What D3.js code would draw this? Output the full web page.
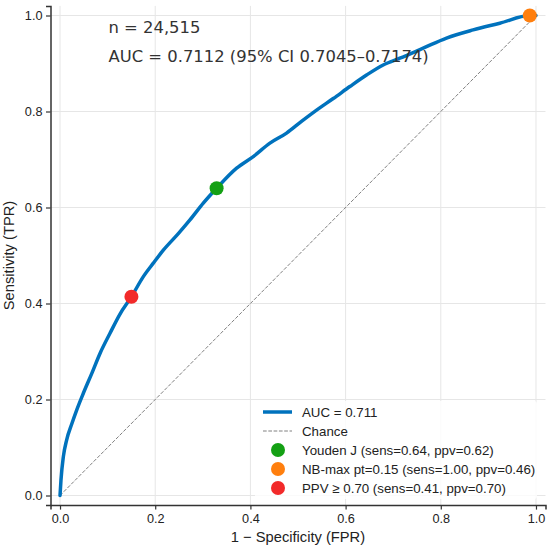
<!DOCTYPE html>
<html>
  <head>
    <meta charset="utf-8">
    <title>ROC curve</title>
    <script src="https://d3js.org/d3.v7.min.js"></script>
    <style>
      body { margin: 0; background: white; }
      .tick text { font-family: "Liberation Sans", Arial, sans-serif; font-size: 12.7px; fill: #222; }
      .axisLabel { font-family: "Liberation Sans", Arial, sans-serif; font-size: 14.7px; fill: #222; }
      .note { font-family: "DejaVu Sans", sans-serif; font-size: 16.4px; fill: #333; }
      .legendText { font-family: "Liberation Sans", Arial, sans-serif; font-size: 13.3px; fill: #222; }
    </style>
  </head>
  <body>
    <svg id="chart" width="550" height="549"></svg>
    <script>
      // data
      fpr = [0, 0.002, 0.007, 0.014, 0.025, 0.035, 0.049, 0.067, 0.084, 0.105, 0.126, 0.150,
             0.175, 0.196, 0.217, 0.249, 0.273, 0.301, 0.329, 0.371, 0.406, 0.441, 0.476,
             0.508, 0.539, 0.574, 0.609, 0.644, 0.679, 0.714, 0.763, 0.812, 0.868, 0.924, 0.987, 1.0];
      tpr = [0, 0.032, 0.081, 0.116, 0.150, 0.178, 0.213, 0.255, 0.296, 0.338, 0.378, 0.414,
             0.456, 0.484, 0.511, 0.546, 0.574, 0.609, 0.640, 0.682, 0.706, 0.734, 0.755,
             0.780, 0.803, 0.827, 0.852, 0.876, 0.897, 0.911, 0.932, 0.953, 0.970, 0.984, 1.0, 1.0];
      pointNames = ["Youden J (sens=0.64, ppv=0.62)",
                    "NB-max pt=0.15 (sens=1.00, ppv=0.46)",
                    "PPV \u2265 0.70 (sens=0.41, ppv=0.70)"];
      pointFpr = [0.329, 0.987, 0.150];
      pointTpr = [0.640, 1.0, 0.414];
      ticks = [0, 0.2, 0.4, 0.6, 0.8, 1.0];
      notes = ["n = 24,515", "AUC = 0.7112 (95% CI 0.7045\u20130.7174)"];
      curveLabel = "AUC = 0.711";
      chanceLabel = "Chance";

      pointColours = ["#14a014", "#ff7f0e", "#f22a2a"];

      svg = d3.select("#chart");
      x = d3.scaleLinear().domain([-0.02, 1.02]).range([50.5, 545.5]);
      y = d3.scaleLinear().domain([-0.02, 1.02]).range([505.1, 5.9]);

      // grid
      grid = svg.append("g");
      grid.selectAll(".gx").data(ticks).enter().append("line")
        .attr("x1", d => x(d)).attr("x2", d => x(d))
        .attr("y1", y.range()[0]).attr("y2", y.range()[1])
        .attr("stroke", "#e6e6e6").attr("stroke-width", 1);
      grid.selectAll(".gy").data(ticks).enter().append("line")
        .attr("y1", d => y(d)).attr("y2", d => y(d))
        .attr("x1", x.range()[0]).attr("x2", x.range()[1])
        .attr("stroke", "#e6e6e6").attr("stroke-width", 1);

      // chance line
      svg.append("line")
        .attr("x1", x(0)).attr("y1", y(0)).attr("x2", x(1)).attr("y2", y(1))
        .attr("stroke", "#808080").attr("stroke-width", 1)
        .attr("stroke-dasharray", "3.7,1.6");

      // roc curve
      line = d3.line().x(d => x(d[0])).y(d => y(d[1])).curve(d3.curveMonotoneX);
      svg.append("path")
        .datum(d3.zip(fpr, tpr))
        .attr("d", line)
        .attr("fill", "none")
        .attr("stroke", "#0072bd")
        .attr("stroke-width", 3.5)
        .attr("stroke-linejoin", "round")
        .attr("stroke-linecap", "round");

      // operating points
      svg.selectAll(".pt").data(pointNames).enter().append("circle")
        .attr("cx", (d, i) => x(pointFpr[i]))
        .attr("cy", (d, i) => y(pointTpr[i]))
        .attr("r", 7)
        .attr("fill", (d, i) => pointColours[i]);

      // axes
      xAxis = svg.append("g")
        .attr("transform", "translate(0," + y.range()[0] + ")")
        .call(d3.axisBottom(x).tickValues(ticks).tickFormat(d3.format(".1f")).tickSizeOuter(0).tickSize(4.5).tickPadding(4));
      yAxis = svg.append("g")
        .attr("transform", "translate(" + x.range()[0] + ",0)")
        .call(d3.axisLeft(y).tickValues(ticks).tickFormat(d3.format(".1f")).tickSizeOuter(0).tickSize(4.5).tickPadding(3.5));
      svg.selectAll(".domain").attr("stroke", "#333").attr("stroke-width", 1.5);
      svg.selectAll(".tick line").attr("stroke", "#333").attr("stroke-width", 1.2);

      svg.append("text").attr("class", "axisLabel")
        .attr("x", (x.range()[0] + x.range()[1]) / 2).attr("y", 542)
        .attr("text-anchor", "middle")
        .text("1 \u2212 Specificity (FPR)");
      svg.append("text").attr("class", "axisLabel")
        .attr("transform", "translate(14," + (y.range()[0] + y.range()[1]) / 2 + ") rotate(-90)")
        .attr("text-anchor", "middle")
        .text("Sensitivity (TPR)");

      // notes
      svg.selectAll(".note").data(notes).enter().append("text")
        .attr("class", "note")
        .attr("x", 108.5)
        .attr("y", (d, i) => 33 + i * 29)
        .text(d => d);

      // legend
      legend = svg.append("g").attr("transform", "translate(255,401)");
      legend.append("rect")
        .attr("width", 282).attr("height", 98)
        .attr("rx", 3)
        .attr("fill", "white").attr("fill-opacity", 0.8);
      rowY = d => 11 + d * 19;
      legend.append("line")
        .attr("x1", 8).attr("x2", 37).attr("y1", rowY(0)).attr("y2", rowY(0))
        .attr("stroke", "#0072bd").attr("stroke-width", 3.5);
      legend.append("line")
        .attr("x1", 8).attr("x2", 37).attr("y1", rowY(1)).attr("y2", rowY(1))
        .attr("stroke", "#808080").attr("stroke-width", 1)
        .attr("stroke-dasharray", "3.7,1.6");
      legend.selectAll(".lp").data(pointNames).enter().append("circle")
        .attr("cx", 23).attr("cy", (d, i) => rowY(i + 2))
        .attr("r", 7)
        .attr("fill", (d, i) => pointColours[i]);
      legend.selectAll(".legendText").data([curveLabel, chanceLabel].concat(pointNames)).enter().append("text")
        .attr("class", "legendText")
        .attr("x", 47)
        .attr("y", (d, i) => rowY(i) + 4.7)
        .text(d => d);
    </script>
  </body>
</html>
